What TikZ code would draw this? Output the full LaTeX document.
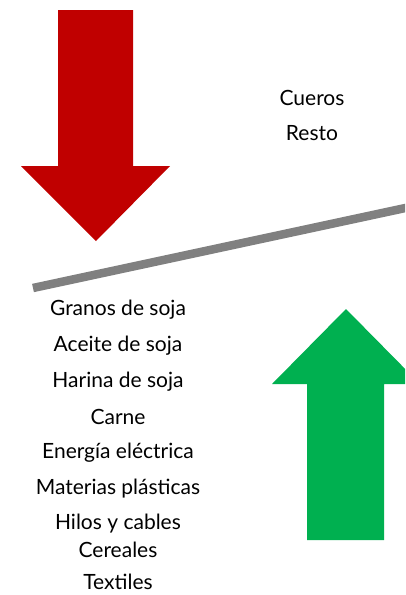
\documentclass[tikz,border=0pt]{standalone}
\usepackage{fontspec}
\setmainfont{Lato}
\usetikzlibrary{calc}
\definecolor{arrowred}{HTML}{C00000}
\definecolor{arrowgreen}{HTML}{00B050}
\tikzstyle{itemlabel} = [anchor=center, color=black, inner sep=0pt, font={\fontsize{21}{25}\selectfont}]
\tikzset{lever/.style={draw=gray, line width=8.5pt}}

\begin{document}
\begin{tikzpicture}[x=1pt, y=-1pt]
  \useasboundingbox (0,0) rectangle (405,595);
  \clip (0,0) rectangle (405,595);

  % red arrow (down)
  \fill[arrowred] (58,10) -- (133,10) -- (133,166) -- (170,166) -- (96,241)
    -- (21,166) -- (58,166) -- cycle;

  % green arrow (up)
  \fill[arrowgreen] (307,540) -- (384,540) -- (384,384) -- (420,384) -- (346,309)
    -- (272,384) -- (307,384) -- cycle;

  % lever
  \coordinate (leverL) at (33,288);
  \coordinate (leverR) at (410,207);
  \draw[lever] (leverL) -- (leverR);

  % upper side
  \node[at={(312,98)}, itemlabel] (cueros) {Cueros};
  \node[at={(312,133)}, itemlabel] (resto) {Resto};

  % lower side
  \node[at={(118,310)}, itemlabel] (granos) {Granos de soja};
  \node[at={(118,346)}, itemlabel] (aceite) {Aceite de soja};
  \node[at={(118,382)}, itemlabel] (harina) {Harina de soja};
  \node[at={(118,417)}, itemlabel] (carne) {Carne};
  \node[at={(118,453)}, itemlabel] (energia) {Energía eléctrica};
  \node[at={(118,489)}, itemlabel] (plasticas) {Materias plásticas};
  \node[at={(118,524)}, itemlabel] (hilos) {Hilos y cables};
  \node[at={(118,550)}, itemlabel] (cereales) {Cereales};
  \node[at={(118,582)}, itemlabel] (textiles) {Textiles};
\end{tikzpicture}
\end{document}
